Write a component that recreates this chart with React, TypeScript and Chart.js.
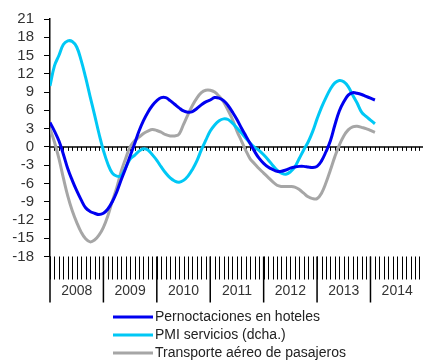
import { useEffect, useRef } from 'react';
import { Chart, registerables } from 'chart.js';

Chart.register(...registerables);

// Monthly series, January 2008 onwards (index 0 = Jan 2008)
const YEARS = ['2008', '2009', '2010', '2011', '2012', '2013', '2014'];

const HOTELES = [
  4.0, 2.6, 1.0, -1.2, -3.6, -5.5, -7.2, -8.7, -10.0, -10.6, -10.9, -11.1,
  -10.9, -10.2, -9.0, -7.4, -5.4, -3.5, -1.5, 0.5, 2.6, 4.3, 5.7, 6.8,
  7.6, 8.1, 8.1, 7.6, 7.0, 6.4, 5.9, 5.7, 5.8, 6.3, 6.9, 7.4,
  7.7, 8.1, 8.0, 7.6, 6.8, 5.7, 4.5, 3.1, 1.8, 0.5, -0.8, -1.9,
  -2.7, -3.3, -3.7, -4.0, -4.0, -3.8, -3.5, -3.3, -3.2, -3.2, -3.3, -3.4,
  -3.2, -2.3, -0.8, 1.0, 3.6, 5.9, 7.4, 8.5, 8.9, 8.8, 8.6, 8.3,
  8.0, 7.7,
];

const PMI_SERVICIOS = [
  10.0, 13.3, 15.0, 16.8, 17.4, 17.3, 16.4, 14.2, 11.4, 8.3, 5.3, 2.2,
  -0.6, -2.8, -4.3, -4.8, -4.7, -3.4, -2.0, -1.4, -0.7, -0.3, -0.5, -1.3,
  -2.2, -3.3, -4.3, -5.1, -5.6, -5.8, -5.5, -4.8, -3.7, -2.3, -0.5, 1.1,
  2.6, 3.6, 4.3, 4.6, 4.5, 3.9, 3.1, 2.3, 1.4, 0.6, -0.1, -0.6,
  -1.3, -2.1, -3.0, -3.8, -4.3, -4.5, -4.1, -3.3, -1.9, -0.5, 0.8, 2.5,
  4.6, 6.5, 8.1, 9.5, 10.5, 10.9, 10.7, 9.9, 8.5, 7.2, 5.7, 5.0,
  4.4, 3.8,
];

const TRANSPORTE_AEREO = [
  3.0, 0.8, -1.9, -5.1, -8.1, -10.5, -12.4, -14.0, -15.1, -15.6, -15.3, -14.5,
  -13.2, -11.3, -8.9, -6.7, -4.0, -1.9, 0.0, 1.0, 1.6, 2.2, 2.6, 2.85,
  2.7, 2.4, 2.0, 1.8, 1.8, 2.1, 3.7, 5.3, 6.8, 8.0, 8.9, 9.3,
  9.3, 9.0, 8.3, 7.4, 6.0, 4.5, 2.6, 1.0, -0.6, -2.0, -2.8, -3.6,
  -4.3, -5.0, -5.7, -6.3, -6.5, -6.5, -6.5, -6.6, -7.0, -7.6, -8.2, -8.5,
  -8.5, -7.6, -5.9, -3.8, -1.6, 0.3, 1.8, 2.8, 3.3, 3.4, 3.2, 3.0,
  2.7, 2.4,
];

const SERIES_LABELS = [
  'Pernoctaciones en hoteles',
  'PMI servicios (dcha.)',
  'Transporte aéreo de pasajeros',
];
const SERIES_COLORS = ['#0000f0', '#00c8f5', '#a6a6a6'];

const Y_MIN = -18;
const Y_MAX = 21;
const Y_STEP = 3;

const FONT = '"Liberation Sans", Arial, sans-serif';
const TEXT_COLOR = '#333333';

const toPoints = (values: number[]) => values.map((y, x) => ({ x, y }));

// Zero line with monthly notches, monthly ticks under the plot, year cells and legend
const decorPlugin = {
  id: 'decor',
  beforeDatasetsDraw(chart: any) {
    const { ctx, chartArea, scales } = chart;
    const xs = scales.x;
    const y0 = scales.y.getPixelForValue(0);
    ctx.save();
    ctx.strokeStyle = '#000';
    ctx.lineWidth = 1.5;
    ctx.beginPath();
    ctx.moveTo(chartArea.left, y0);
    ctx.lineTo(chartArea.right, y0);
    ctx.stroke();
    ctx.lineWidth = 1;
    ctx.beginPath();
    for (let m = 1; m <= Math.floor(xs.max); m++) {
      const px = Math.round(xs.getPixelForValue(m)) + 0.5;
      ctx.moveTo(px, y0);
      ctx.lineTo(px, y0 + 4);
    }
    ctx.stroke();
    ctx.restore();
  },
  afterDraw(chart: any) {
    const { ctx, chartArea, scales } = chart;
    const xs = scales.x;
    const bottom = chartArea.bottom;
    ctx.save();
    // monthly ticks
    ctx.strokeStyle = '#000';
    ctx.lineWidth = 1;
    ctx.beginPath();
    for (let m = 0; m <= Math.floor(xs.max); m++) {
      const px = Math.round(xs.getPixelForValue(m)) + 0.5;
      ctx.moveTo(px, bottom);
      ctx.lineTo(px, bottom + 23);
    }
    ctx.stroke();
    // year separators and labels
    ctx.lineWidth = 1.5;
    ctx.beginPath();
    YEARS.forEach((_, i) => {
      const px = xs.getPixelForValue(i * 12);
      ctx.moveTo(px, bottom);
      ctx.lineTo(px, bottom + 46);
    });
    ctx.stroke();
    ctx.fillStyle = TEXT_COLOR;
    ctx.font = `14px ${FONT}`;
    ctx.textAlign = 'center';
    ctx.textBaseline = 'middle';
    YEARS.forEach((label, i) => {
      ctx.fillText(label, xs.getPixelForValue(i * 12 + 6), bottom + 35);
    });
    // legend
    ctx.textAlign = 'left';
    ctx.fillStyle = '#222';
    chart.data.datasets.forEach((ds: any, i: number) => {
      const yy = 317 + i * 18;
      ctx.strokeStyle = ds.borderColor;
      ctx.lineWidth = 3;
      ctx.beginPath();
      ctx.moveTo(113, yy);
      ctx.lineTo(153, yy);
      ctx.stroke();
      ctx.fillText(ds.label, 155, yy);
    });
    ctx.restore();
  },
};

export default function App() {
  const canvasRef = useRef<HTMLCanvasElement | null>(null);

  useEffect(() => {
    const canvas = canvasRef.current;
    if (!canvas) return;
    const seriesValues = [HOTELES, PMI_SERVICIOS, TRANSPORTE_AEREO];
    const chart = new Chart(canvas, {
      type: 'line',
      data: {
        datasets: seriesValues.map((values, i) => ({
          label: SERIES_LABELS[i],
          data: toPoints(values),
          borderColor: SERIES_COLORS[i],
          backgroundColor: SERIES_COLORS[i],
          borderWidth: 3,
          pointRadius: 0,
          tension: 0.4,
          fill: false,
        })),
      },
      options: {
        animation: false,
        responsive: false,
        devicePixelRatio: 1,
        layout: { padding: { left: 0, right: 0, top: 15, bottom: 104.5 } },
        plugins: { legend: { display: false }, tooltip: { enabled: false } },
        scales: {
          x: {
            type: 'linear',
            min: 0,
            max: 83.8,
            display: false,
          },
          y: {
            min: Y_MIN,
            max: Y_MAX,
            afterFit: (scale: any) => {
              scale.width = 50;
            },
            ticks: {
              stepSize: Y_STEP,
              autoSkip: false,
              padding: 10,
              color: TEXT_COLOR,
              font: { family: FONT, size: 15 },
            },
            grid: {
              drawOnChartArea: false,
              drawTicks: true,
              tickLength: 6,
              color: '#000',
              lineWidth: 1,
            },
            border: { display: true, color: '#000', width: 1.5 },
          },
        },
      },
      plugins: [decorPlugin],
    });
    return () => chart.destroy();
  }, []);

  return (
    <div style={{ position: 'absolute', left: 0, top: 0, width: 423, height: 361, background: '#fff' }}>
      <canvas ref={canvasRef} width={423} height={361} />
    </div>
  );
}
